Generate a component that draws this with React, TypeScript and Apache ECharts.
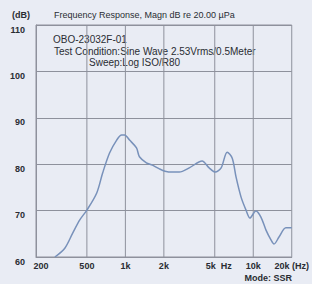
import React, { useEffect, useRef } from "react";
import * as echarts from "echarts";

const freqs = [281, 336, 388, 440, 500, 597, 664, 752, 855, 935, 986, 1078, 1222, 1288, 1460, 1626, 1844, 2040, 2328, 2640, 3160, 3980, 4520, 5040, 5610, 6250, 6850, 7340, 8030, 8780, 9420, 10480, 11480, 12580, 13760, 14540, 15900, 18000, 20000];
const levels = [60.0, 61.9, 65.2, 68.0, 70.1, 73.8, 78.1, 82.4, 85.2, 86.3, 86.3, 85.2, 83.5, 81.6, 80.3, 79.8, 79.0, 78.5, 78.3, 78.3, 79.2, 80.7, 79.2, 78.3, 79.2, 82.6, 81.3, 77.2, 72.9, 70.1, 68.4, 69.9, 68.6, 65.8, 63.7, 62.8, 64.3, 66.3, 66.3];
const xTicks = [200, 500, 1000, 2000, 5000, 10000, 20000];
const xTickLabels = ["200", "500", "1k", "2k", "5k  Hz", "10k", "20k (Hz)"];
const yTicks = [60, 70, 80, 90, 100, 110];

const title = "Frequency Response, Magn dB re 20.00 µPa";
const notes = ["OBO-23032F-01", "Test Condition:Sine Wave 2.53Vrms/0.5Meter", "Sweep:Log ISO/R80"];

export default function App() {
  const ref = useRef<HTMLDivElement>(null);
  useEffect(() => {
    if (!ref.current) return;
    const chart = echarts.init(ref.current, null, { renderer: "svg" });
    const font = "Liberation Sans";
    const textColor = "#2a2c33";
    const gridColor = "#8e919c";
    const lbl = { fontFamily: font, fontSize: 9, fontWeight: "bold", color: textColor };
    const yMin = yTicks[0];
    const yMax = yTicks[yTicks.length - 1];
    const xMin = xTicks[0];
    const xMax = xTicks[xTicks.length - 1];
    chart.setOption({
      animation: false,
      backgroundColor: "#e9ecf4",
      grid: { left: 36, right: 19, top: 25, bottom: 27, containLabel: false, show: true, borderColor: gridColor, borderWidth: 1, backgroundColor: "transparent" },
      xAxis: [
        {
          type: "log",
          logBase: 10,
          min: xMin,
          max: xMax,
          axisLine: { show: true, lineStyle: { color: gridColor, width: 1 } },
          axisTick: { show: false },
          splitLine: { show: false },
          axisLabel: {
            customValues: xTicks,
            margin: 4,
            ...lbl,
            formatter: (v: number) => {
              const i = xTicks.indexOf(v);
              const s = i >= 0 ? xTickLabels[i] : "";
              if (v === 200) return "{a|" + s + "}";
              if (v === 5000) return "{b|" + s + "}";
              return s;
            },
            rich: {
              a: { padding: [0, 0, 0, 10], ...lbl },
              b: { padding: [0, 0, 0, 8], ...lbl },
            },
          },
        },
      ],
      yAxis: {
        type: "value",
        min: yMin,
        max: yMax,
        interval: 10,
        axisLine: { show: true, lineStyle: { color: gridColor, width: 1 } },
        axisTick: { show: false },
        splitLine: { show: true, lineStyle: { color: gridColor, width: 1 } },
        axisLabel: {
          margin: 11,
          ...lbl,
          verticalAlign: "top",
          formatter: (v: number) => String(v),
        },
      },
      series: [
        ...xTicks.slice(1, -1).map((x) => ({
          type: "line",
          data: [[x, yMin], [x, yMax]],
          showSymbol: false,
          z: 2,
          lineStyle: { color: gridColor, width: 1 },
        })),
        {
          type: "line",
          data: freqs.map((f, i) => [f, levels[i]]),
          showSymbol: false,
          smooth: 0.3,
          z: 3,
          lineStyle: { color: "#7891ba", width: 1.5 },
        },
      ],
      graphic: [
        { type: "text", x: 12, y: 15, style: { text: "(dB)", font: `bold 9px "${font}"`, fill: textColor, verticalAlign: "middle" } },
        { type: "text", x: 54, y: 15, style: { text: title, font: `9px "${font}"`, fill: textColor, verticalAlign: "middle" } },
        { type: "text", x: 53, y: 39, style: { text: notes[0], font: `10px "${font}"`, fill: textColor, verticalAlign: "middle" } },
        { type: "text", x: 54, y: 51, style: { text: notes[1], font: `10px "${font}"`, fill: textColor, verticalAlign: "middle" } },
        { type: "text", x: 89, y: 62, style: { text: notes[2], font: `10px "${font}"`, fill: textColor, verticalAlign: "middle" } },
        { type: "text", x: 292, y: 278, style: { text: "Mode: SSR", font: `bold 9px "${font}"`, fill: textColor, align: "right", verticalAlign: "middle" } },
      ],
    });
    return () => chart.dispose();
  }, []);
  return (
    <div
      ref={ref}
      style={{ position: "absolute", left: 0, top: 0, width: 312, height: 284, background: "#e9ecf4" }}
    />
  );
}
